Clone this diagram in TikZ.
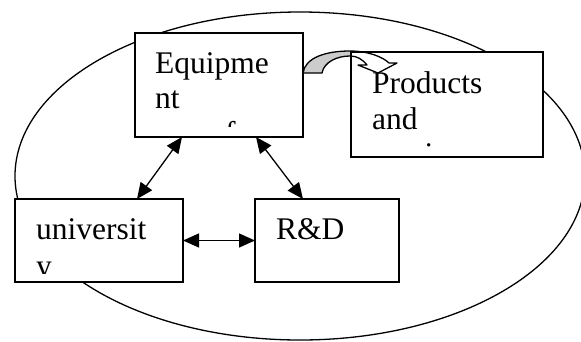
\documentclass[tikz,border=0pt]{standalone}
\usepackage{fontspec}
\setmainfont{Liberation Serif}
\usetikzlibrary{arrows.meta,calc}
\begin{document}
\begin{tikzpicture}[x=1pt,y=-1pt,
  box/.style={draw,fill=white,line width=1.5pt,rectangle,inner sep=0pt,outer sep=0pt,anchor=north west},
  txt/.style={anchor=base west,inner sep=0pt,font=\fontsize{31.5}{35}\selectfont},
  link/.style={line width=1.3pt,{Triangle[length=16pt,width=14pt]}-{Triangle[length=16pt,width=14pt]}},
  curvarrow/.style={line width=1.3pt,line join=round}
]
\clip (0,0) rectangle (581,341);
\draw[line width=1.3pt] (300,176) ellipse [x radius=285, y radius=164];

% boxes
\node[box,minimum width=168pt,minimum height=104pt] (eq) at (135,33) {};
\node[box,minimum width=192pt,minimum height=105pt] (prod) at (351,52) {};
\node[box,minimum width=168pt,minimum height=83pt] (uni) at (15,199) {};
\node[box,minimum width=144pt,minimum height=83pt] (rd) at (255,199) {};

% texts (clipped like the text frames)
\begin{scope}
\clip (eq.north west) rectangle ($(eq.south east)+(0,-11)$);
\node[txt] (eqa) at (155,73) {Equipme};
\node[txt] (eqb) at (155,108) {nt};
\node[txt] (eqc) at (155,143) {manufac};
\end{scope}
\begin{scope}
\clip (prod.north west) rectangle ($(prod.south east)+(0,-11)$);
\node[txt] (pra) at (372,93) {Products};
\node[txt] (prb) at (372,129) {and};
\node[txt] (prc) at (372,164) {services};
\end{scope}
\begin{scope}
\clip (uni.north west) rectangle ($(uni.south east)+(0,-9)$);
\node[txt] (una) at (36,239) {universit};
\node[txt] (unb) at (36,276) {y};
\end{scope}
\node[txt] (rda) at (276,239) {R\&D};

% curved block arrow
\def\curvpath{(303,73) .. controls (305,58) and (325,51) .. (350,51)
  .. controls (368,51) and (383,57) .. (389,63) -- (397,63) -- (378,73) -- (358,65) -- (367,65)
  .. controls (362,59) and (357,56) .. (350,56)
  .. controls (337,56) and (324,62) .. (322,73) -- cycle}
\fill[white] \curvpath;
\begin{scope}
\clip (300,40) rectangle (prod.north west |- 0,80);
\fill[gray!40] \curvpath;
\end{scope}
\draw[curvarrow] \curvpath;
\draw[line width=1.5pt] (prod.north west) rectangle (prod.south east);

% connectors
\draw[link] ($(eq.south west)+(47,0)$) -- ($(uni.north west)+(122,0)$);
\draw[link] ($(eq.south west)+(121,0)$) -- ($(rd.north west)+(48,0)$);
\draw[link] (uni.east) -- (rd.west);
\end{tikzpicture}
\end{document}
